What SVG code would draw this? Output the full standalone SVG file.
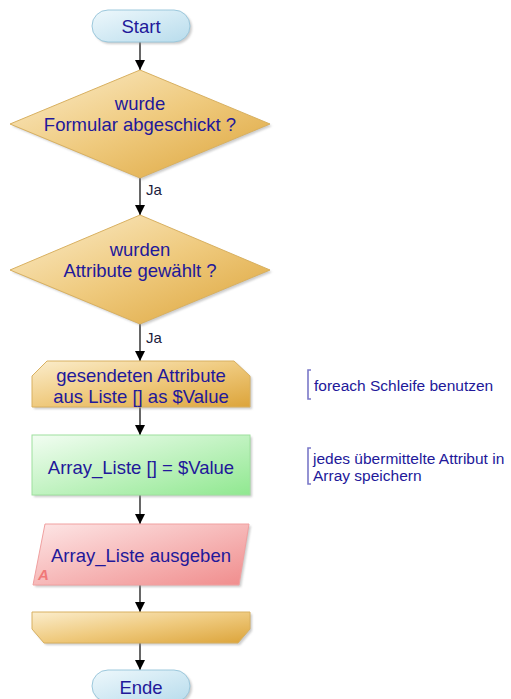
<svg xmlns="http://www.w3.org/2000/svg" width="511" height="699" viewBox="0 0 511 699">
  <style>
    .lbl { font-family: "Liberation Sans", Arial, sans-serif; font-size: 18.5px; fill: #22189a; text-anchor: middle; dominant-baseline: central; }
    .small { font-family: "Liberation Sans", Arial, sans-serif; font-size: 15.5px; fill: #22189a; }
    .ja { font-family: "Liberation Sans", Arial, sans-serif; font-size: 15px; fill: #1c1c3c; }
    .edge { stroke: #000; stroke-width: 1.2; fill: none; marker-end: url(#arrow); }
    .note { stroke: #7a78c8; stroke-width: 1.6; fill: none; }
    .term { fill: url(#gTerm); stroke: #9cc8dc; stroke-width: 1; }
    .gold { fill: url(#gGold); stroke: #d8b060; stroke-width: 1; }
    .green { fill: url(#gGreen); stroke: #9ee09e; stroke-width: 1; }
    .pink { fill: url(#gPink); stroke: #f0a0a0; stroke-width: 1; }
    .shadow { fill: #9a9a9a; opacity: 0.5; }
  </style>
  <defs>
    <linearGradient id="gTerm" x1="0" y1="0" x2="1" y2="1">
      <stop offset="0" stop-color="#eef8fc"/>
      <stop offset="1" stop-color="#b8dcec"/>
    </linearGradient>
    <linearGradient id="gGold" x1="0" y1="0" x2="1" y2="1">
      <stop offset="0" stop-color="#fbedcc"/>
      <stop offset="0.5" stop-color="#efca7e"/>
      <stop offset="1" stop-color="#dca43a"/>
    </linearGradient>
    <linearGradient id="gGreen" x1="0" y1="0" x2="1" y2="1">
      <stop offset="0" stop-color="#f2fdf2"/>
      <stop offset="1" stop-color="#90e890"/>
    </linearGradient>
    <linearGradient id="gPink" x1="0" y1="0" x2="1" y2="1">
      <stop offset="0" stop-color="#fde6e6"/>
      <stop offset="1" stop-color="#f08c8c"/>
    </linearGradient>
    <filter id="soft" x="-10%" y="-10%" width="120%" height="130%">
      <feGaussianBlur stdDeviation="1"/>
    </filter>
    <marker id="arrow" viewBox="0 0 10 10" refX="10" refY="5" markerWidth="10" markerHeight="10" markerUnits="userSpaceOnUse" orient="auto">
      <path d="M0,0 L10,5 L0,10 Z" fill="#000"/>
    </marker>
  </defs>

  <!-- connectors -->
  <g id="connectors">
    <line class="edge" x1="140" y1="42" x2="140" y2="70"/>
    <line class="edge" x1="140" y1="178" x2="140" y2="215"/>
    <text class="ja" x="146" y="195">Ja</text>
    <line class="edge" x1="140" y1="324" x2="140" y2="361"/>
    <text class="ja" x="146" y="343">Ja</text>
    <line class="edge" x1="140" y1="407" x2="140" y2="435"/>
    <line class="edge" x1="140" y1="495" x2="140" y2="524"/>
    <line class="edge" x1="140" y1="585" x2="140" y2="612"/>
    <line class="edge" x1="140" y1="643" x2="140" y2="670"/>
  </g>

  <g id="start">
    <rect class="shadow" filter="url(#soft)" x="94" y="12" width="98" height="32" rx="16"/>
    <rect class="term" x="92" y="10" width="98" height="32" rx="16"/>
    <text class="lbl" x="141" y="26">Start</text>
  </g>

  <g id="decision1">
    <polygon class="shadow" filter="url(#soft)" points="142,72 272,126 142,180 12,126"/>
    <polygon class="gold" points="140,70 270,124 140,178 10,124"/>
    <text class="lbl" x="140" y="103">wurde</text>
    <text class="lbl" x="140" y="124">Formular abgeschickt ?</text>
  </g>

  <g id="decision2">
    <polygon class="shadow" filter="url(#soft)" points="142,217 272,272 142,326 12,272"/>
    <polygon class="gold" points="140,215 270,270 140,324 10,270"/>
    <text class="lbl" x="140" y="249">wurden</text>
    <text class="lbl" x="140" y="270">Attribute gewählt ?</text>
  </g>

  <g id="loopStart">
    <polygon class="shadow" filter="url(#soft)" points="49,363 236,363 252,378 252,409 34,409 34,378"/>
    <polygon class="gold" points="47,361 234,361 250,376 250,407 32,407 32,376"/>
    <text class="lbl" x="141" y="375">gesendeten Attribute</text>
    <text class="lbl" x="141" y="396">aus Liste [] as $Value</text>
  </g>

  <g id="assign">
    <rect class="shadow" filter="url(#soft)" x="34" y="437" width="218" height="60"/>
    <rect class="green" x="32" y="435" width="218" height="60"/>
    <text class="lbl" x="141" y="467">Array_Liste [] = $Value</text>
  </g>

  <g id="output">
    <polygon class="shadow" filter="url(#soft)" points="47,526 251,526 241,587 35,587"/>
    <polygon class="pink" points="45,524 249,524 239,585 33,585"/>
    <text class="lbl" x="141" y="555">Array_Liste ausgeben</text>
    <text x="38" y="580" font-family="Liberation Sans, Arial, sans-serif" font-size="15" font-weight="bold" font-style="italic" fill="#f07878">A</text>
  </g>

  <g id="loopEnd">
    <polygon class="shadow" filter="url(#soft)" points="34,614 252,614 252,631 240,645 46,645 34,631"/>
    <polygon class="gold" points="32,612 250,612 250,629 238,643 44,643 32,629"/>
  </g>

  <g id="end">
    <rect class="shadow" filter="url(#soft)" x="94" y="672" width="98" height="32" rx="16"/>
    <rect class="term" x="92" y="670" width="98" height="32" rx="16"/>
    <text class="lbl" x="141" y="687">Ende</text>
  </g>

  <g id="note1">
    <path class="note" d="M311,370 L308,370 L308,399 L311,399"/>
    <text class="small" x="314" y="391">foreach Schleife benutzen</text>
  </g>

  <g id="note2">
    <path class="note" d="M311,448 L308,448 L308,484 L311,484"/>
    <text class="small" x="313" y="464">jedes übermittelte Attribut in</text>
    <text class="small" x="313" y="481">Array speichern</text>
  </g>
</svg>
